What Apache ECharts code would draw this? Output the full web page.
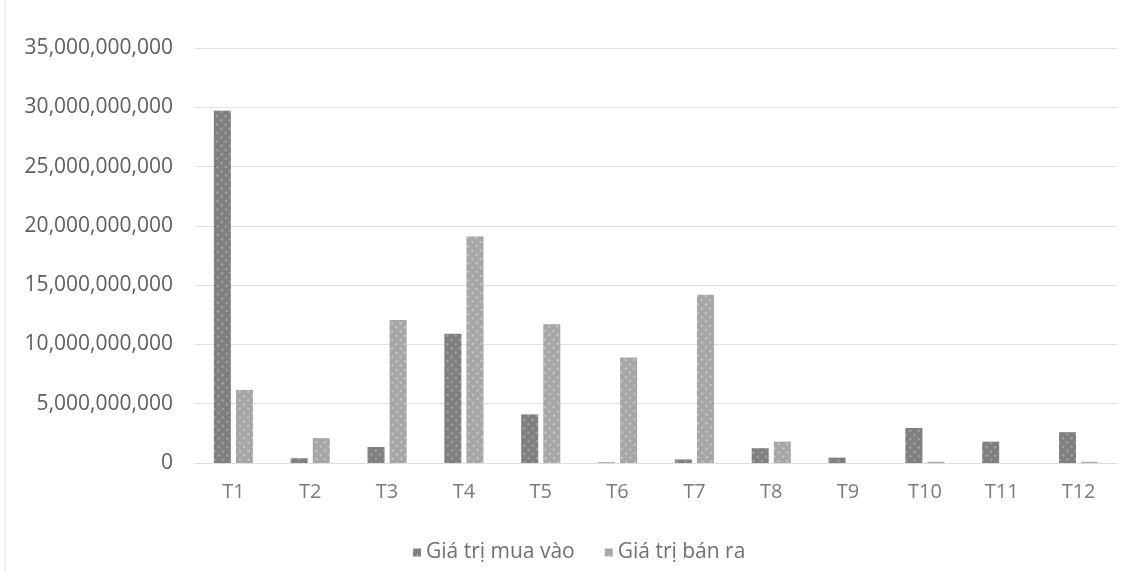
<!DOCTYPE html>
<html>
<head>
<meta charset="utf-8">
<script src="https://cdn.jsdelivr.net/npm/echarts@6/dist/echarts.min.js"></script>
<style>
html,body{margin:0;padding:0;background:#fff;}
#chart{width:1137px;height:572px;}
</style>
</head>
<body>
<div id="chart"></div>
<script>
const categories = ['T1','T2','T3','T4','T5','T6','T7','T8','T9','T10','T11','T12'];
const purchaseValues = [29700000000, 400000000, 1350000000, 10900000000, 4100000000, 50000000, 300000000, 1250000000, 450000000, 2950000000, 1800000000, 2600000000];
const salesValues = [6150000000, 2100000000, 12050000000, 19100000000, 11700000000, 8900000000, 14200000000, 1800000000, 0, 100000000, 0, 100000000];
const seriesNames = ['Giá trị mua vào', 'Giá trị bán ra'];
const yTicks = [0, 5000000000, 10000000000, 15000000000, 20000000000, 25000000000, 30000000000, 35000000000];

const chart = echarts.init(document.getElementById('chart'));
const fmt = v => v.toString().replace(/\B(?=(\d{3})+(?!\d))/g, ',');
const font = 'Open Sans';
chart.setOption({
  animation: false,
  backgroundColor: '#ffffff',
  grid: { left: 195, right: 20, top: 48, bottom: 109, containLabel: false },
  graphic: [
    { type: 'line', shape: { x1: 5, y1: 0, x2: 5, y2: 572 }, style: { stroke: '#e2e2e2', lineWidth: 1 } }
  ],
  legend: {
    data: seriesNames,
    top: 537,
    left: 408,
    itemWidth: 8, itemHeight: 8, itemGap: 30,
    icon: 'rect',
    textStyle: { fontFamily: font, fontSize: 21, color: '#707070' }
  },
  xAxis: {
    type: 'category',
    data: categories,
    axisLine: { lineStyle: { color: '#dedede' } },
    axisTick: { show: false },
    axisLabel: { fontFamily: font, fontSize: 20, color: '#7a7a7a', margin: 19 }
  },
  yAxis: {
    type: 'value',
    min: yTicks[0], max: yTicks[yTicks.length - 1], interval: yTicks[1] - yTicks[0],
    axisLine: { show: false }, axisTick: { show: false },
    splitLine: { lineStyle: { color: '#e0e0e0' } },
    axisLabel: { fontFamily: font, fontSize: 21, color: '#5e5e5e', margin: 22, formatter: v => fmt(v) }
  },
  series: [
    {
      name: seriesNames[0], type: 'bar', data: purchaseValues,
      barWidth: 17, barGap: '30%',
      itemStyle: {
        color: '#7f7f7f',
        decal: { symbol: 'circle', symbolSize: 0.6, color: 'rgba(195,195,195,0.55)', dashArrayX: [4, 2], dashArrayY: [4, 2], rotation: 0.78 }
      }
    },
    {
      name: seriesNames[1], type: 'bar', data: salesValues,
      barWidth: 17,
      itemStyle: {
        color: '#a6a6a6',
        decal: { symbol: 'circle', symbolSize: 0.6, color: 'rgba(220,220,220,0.6)', dashArrayX: [4, 2], dashArrayY: [4, 2], rotation: 0.78 }
      }
    }
  ]
});
</script>
</body>
</html>
